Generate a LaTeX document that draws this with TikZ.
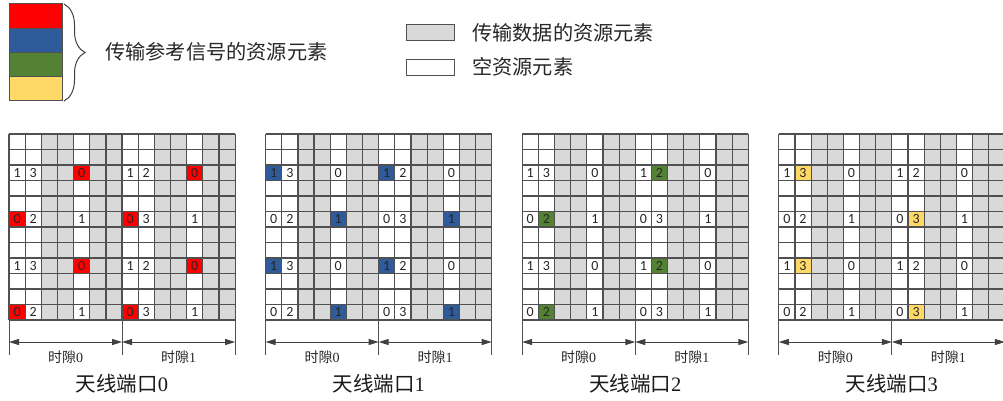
\documentclass[tikz,border=0pt]{standalone}
\usepackage{fontspec}
\setmainfont{Liberation Serif}
\newfontfamily\cjk{Noto Sans CJK SC}
\newfontfamily\cellfont{Carlito}
\usetikzlibrary{arrows.meta,decorations.pathreplacing}
\definecolor{gridc}{HTML}{505050}
\definecolor{arrowc}{HTML}{404040}
\definecolor{grayfill}{HTML}{D9D9D9}
\definecolor{portA}{HTML}{FF0000}
\definecolor{portB}{HTML}{2F5B9A}
\definecolor{portC}{HTML}{548235}
\definecolor{portD}{HTML}{FFD966}
\begin{document}
\begin{tikzpicture}[x=1pt,y=-1pt,
  gridline/.style={draw=gridc,line width=1.2pt},
  legbox/.style={draw=gridc,line width=1pt,inner sep=0pt,outer sep=0pt},
  legtext/.style={anchor=west,inner sep=0pt,font=\cjk\fontsize{20.2}{23}\selectfont,text=black!85},
  celltext/.style={inner sep=0pt,font=\cellfont\fontsize{14}{16}\selectfont,text=black!85},
  dimarrow/.style={draw=arrowc,line width=1pt,{Triangle[length=10pt,width=6pt]}-{Triangle[length=10pt,width=6pt]}},
  slottext/.style={inner sep=0pt,font=\fontsize{14}{16}\selectfont,text=black!85},
  titletext/.style={inner sep=0pt,font=\fontsize{20.5}{24}\selectfont,text=black!90},
  bracestyle/.style={draw=arrowc,line width=1pt,decorate,decoration={brace,amplitude=21pt}}]
\useasboundingbox (0,0) rectangle (1003,400);
% legend: reference signal colours
\foreach \i/\c in {0/portA,1/portB,2/portC,3/portD}{
  \node[legbox,fill=\c,minimum width=53pt,minimum height=24.25pt] (lg\i) at (35.5,{16.1+24.25*\i}) {};
}
\coordinate (bt) at (64,4);
\coordinate (bb) at (64,101);
\draw[bracestyle] (bt) -- (bb);
\node[legtext] (lgrs) at (105,52) {传输参考信号的资源元素};
% legend: data / empty
\node[legbox,fill=grayfill,minimum width=48pt,minimum height=16pt] (lgdata) at (430,32) {};
\node[legtext] (lgdatat) at (472,33) {传输数据的资源元素};
\node[legbox,fill=white,minimum width=48pt,minimum height=16pt] (lgempty) at (430,67) {};
\node[legtext] (lgemptyt) at (472,67) {空资源元素};
% grids
\foreach \g/\p/\pc in {0/0/portA,1/1/portB,2/2/portC,3/3/portD}{
  \pgfmathsetmacro\xo{9+256.6*\g}
  \begin{scope}[xshift=\xo pt,yshift=-134pt,x=16.15pt,y=-15.5pt]
    \foreach \c in {2,3,5,6,9,10,12,13}{\fill[grayfill] (\c,0) rectangle (\c+1,12);}
    \foreach \r in {2,8}{
      \foreach \c/\l in {0/1,1/3,4/0,7/1,8/2,11/0}{
        \ifnum\l=\p\relax \fill[\pc] (\c,\r) rectangle (\c+1,\r+1);\fi
        \node[celltext] (t\g-\r-\c) at (\c+0.5,\r+0.5) {\l};
      }
    }
    \foreach \r in {5,11}{
      \foreach \c/\l in {0/0,1/2,4/1,7/0,8/3,11/1}{
        \ifnum\l=\p\relax \fill[\pc] (\c,\r) rectangle (\c+1,\r+1);\fi
        \node[celltext] (t\g-\r-\c) at (\c+0.5,\r+0.5) {\l};
      }
    }
    \foreach \c in {0,...,14}{\draw[gridline] (\c,0) -- (\c,12);}
    \foreach \r in {0,...,12}{\draw[gridline] (0,\r) -- (14,\r);}
    \foreach \c in {0,7,14}{\draw[gridline,line width=1pt] (\c,12) -- (\c,14.26);}
    \coordinate (s\g-0) at (0,13.42);
    \coordinate (s\g-1) at (7,13.42);
    \coordinate (s\g-2) at (14,13.42);
    \draw[dimarrow] (s\g-0) -- (s\g-1);
    \draw[dimarrow] (s\g-1) -- (s\g-2);
    \node[slottext] (ts\g-0) at (3.5,14.4) {{\cjk 时隙}0};
    \node[slottext] (ts\g-1) at (10.5,14.4) {{\cjk 时隙}1};
    \node[titletext] (title\g) at (7,16.1) {{\cjk 天线端口}\g};
  \end{scope}
}
\end{tikzpicture}
\end{document}
